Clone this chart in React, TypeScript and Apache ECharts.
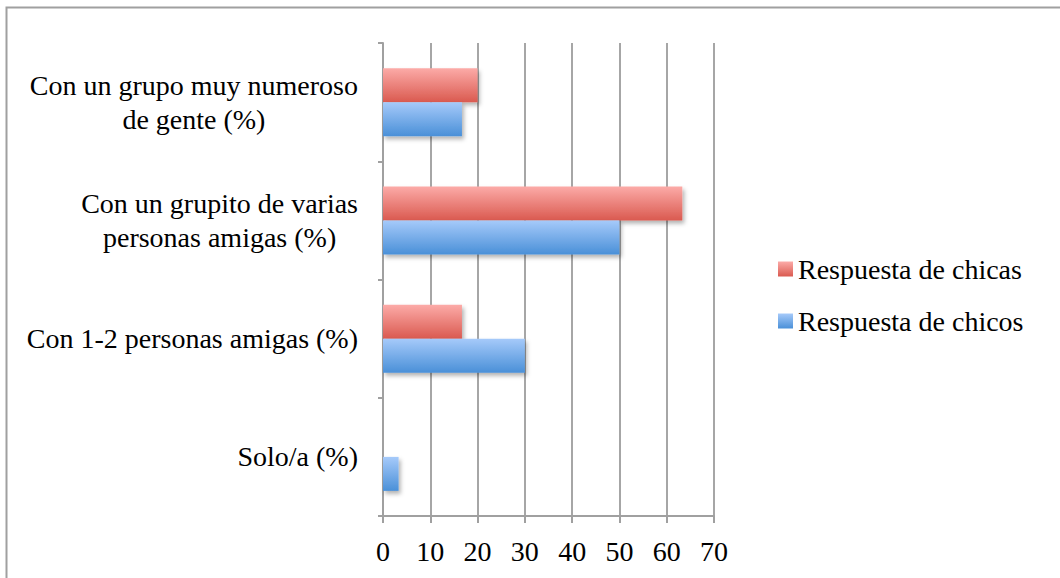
import React, { useEffect, useRef } from "react";
import * as echarts from "echarts";

const categories = [
  "Solo/a (%)",
  "Con 1-2 personas amigas (%)",
  "Con un grupito de varias\npersonas amigas (%)",
  "Con un grupo muy numeroso\nde gente (%)",
];
const chicos = [3.3, 30, 50, 16.7];
const chicas = [0, 16.7, 63.3, 20];
const seriesNames = ["Respuesta de chicas", "Respuesta de chicos"];
const legendOrder = ["Respuesta de chicas", "Respuesta de chicos"];

const FONT = "Liberation Serif";
const FS = 28;

export default function App() {
  const ref = useRef<HTMLDivElement>(null);
  useEffect(() => {
    const chart = echarts.init(ref.current!, null, { renderer: "svg" });
    const redGrad = new echarts.graphic.LinearGradient(0, 0, 0, 1, [
      { offset: 0, color: "#fcaba8" },
      { offset: 1, color: "#da5a50" },
    ]);
    const blueGrad = new echarts.graphic.LinearGradient(0, 0, 0, 1, [
      { offset: 0, color: "#a6cafa" },
      { offset: 1, color: "#4a90d8" },
    ]);
    const shadow = {
      shadowBlur: 4,
      shadowOffsetX: 2,
      shadowOffsetY: 3,
      shadowColor: "rgba(0,0,0,0.3)",
    };
    chart.setOption({
      animation: false,
      textStyle: { fontFamily: FONT, color: "#000" },
      graphic: [
        {
          type: "rect",
          shape: { x: 6.5, y: 7.5, width: 1100, height: 620 },
          style: { fill: "none", stroke: "#a0a0a0", lineWidth: 2 },
          silent: true,
        },
      ],
      grid: { left: 383, right: 346, top: 43, bottom: 62, containLabel: false },
      legend: {
        orient: "vertical",
        left: 773,
        top: 250,
        data: legendOrder,
        icon: "rect",
        itemWidth: 15,
        itemHeight: 15,
        itemGap: 24,
        textStyle: { fontFamily: FONT, fontSize: FS, color: "#000", lineHeight: 28 },
      },
      xAxis: {
        type: "value",
        min: 0,
        max: 70,
        interval: 10,
        axisLine: { show: true, lineStyle: { color: "#a0a0a0", width: 2 } },
        axisTick: { show: true, length: 7, lineStyle: { color: "#a0a0a0", width: 2 } },
        splitLine: { show: true, lineStyle: { color: "#a6a6a6", width: 2 } },
        axisLabel: { fontFamily: FONT, fontSize: FS, color: "#000", margin: 21 },
      },
      yAxis: {
        type: "category",
        data: categories,
        axisLine: { show: true, lineStyle: { color: "#a0a0a0", width: 2 } },
        axisTick: { show: true, length: 5, lineStyle: { color: "#a0a0a0", width: 2 } },
        axisLabel: {
          margin: 25,
          fontFamily: FONT,
          fontSize: FS,
          color: "#000",
          lineHeight: 34,
          formatter: (v: string) =>
            v
              .split("\n")
              .map((l) => "{c|" + l + "}")
              .join("\n"),
          rich: {
            c: { align: "center", fontFamily: FONT, fontSize: FS, lineHeight: 34, color: "#000" },
          },
        },
      },
      series: [
        {
          name: seriesNames[0],
          type: "bar",
          data: chicas,
          barWidth: 34,
          barGap: "0%",
          itemStyle: { color: redGrad, ...shadow },
        },
        {
          name: seriesNames[1],
          type: "bar",
          data: chicos,
          barWidth: 34,
          barGap: "0%",
          itemStyle: { color: blueGrad, ...shadow },
        },
      ],
    });
    return () => chart.dispose();
  }, []);
  return (
    <div
      ref={ref}
      style={{ position: "absolute", left: 0, top: 0, width: 1060, height: 578, background: "#fff" }}
    />
  );
}
